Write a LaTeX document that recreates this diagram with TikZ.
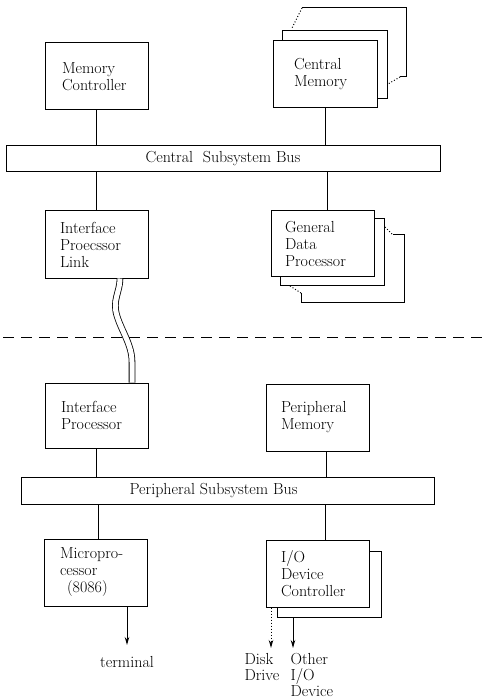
\documentclass[tikz,border=0pt]{standalone}
\usetikzlibrary{arrows.meta}
\begin{document}
\begin{tikzpicture}[x=1pt,y=-1pt, line width=1pt,
  txt/.style={font=\fontsize{16}{17}\selectfont},
  blk/.style={draw, fill=white, align=left, inner ysep=0pt, txt},
  back/.style={draw, fill=white, inner sep=0pt},
  bus/.style={draw, fill=white, inner sep=0pt},
  lbl/.style={txt, inner sep=0pt},
  tip/.style={-{Stealth[length=8pt,width=4.5pt]}}]
\useasboundingbox (0,0) rectangle (487,700);

% ---------- central memory stack ----------
\draw (302,8) -- (406,8) -- (406,77) -- (400,77);
\draw[dotted] (302,8) -- (292,28);
\draw[dotted] (400,77) -- (388,84);
\node[back, minimum width=105pt, minimum height=68pt] (cm2) at (334.5,65) {};
\node[blk, text width=62pt, inner xsep=21pt, minimum height=67pt] (cm) at (325,74.5) {Central\\Memory};

% ---------- memory controller ----------
\node[blk, text width=69pt, inner xsep=17pt, minimum height=67pt] (mc) at (96.5,76.5) {Memory\\Controller};

% ---------- central bus ----------
\node[bus, minimum width=434pt, minimum height=26pt, txt] (csb) at (223,159) {Central\ \ Subsystem Bus};

% ---------- interface processor link ----------
\node[blk, text width=73pt, inner xsep=15pt, minimum height=67pt] (ipl) at (96.5,244.5) {Interface\\Proecssor\\Link};

% ---------- general data processor stack ----------
\draw (393,235) -- (404,235) -- (404,302) -- (301,302) -- (301,293);
\draw[dotted] (385,227) -- (393,235);
\draw[dotted] (290,286) -- (301,293);
\node[back, minimum width=104pt, minimum height=66pt] (gdp2) at (332,252) {};
\node[blk, text width=75pt, inner xsep=14pt, minimum height=65pt] (gdp) at (322.5,243.5) {General\\Data\\Processor};

% connectors central subsystem
\draw (mc.south) -- (mc.south |- csb.north);
\draw (cm.south) -- (cm.south |- csb.north);
\draw (ipl.north) -- (ipl.north |- csb.south);
\draw ([xshift=4.5pt]gdp.north) -- ([xshift=4.5pt]gdp.north |- csb.south);

% ---------- dashed boundary ----------
\coordinate (dl) at (3,337);
\coordinate (dr) at (487,337);
\draw[dash pattern=on 11pt off 7pt] (dl) -- (dr);

% ---------- peripheral subsystem ----------
\node[blk, text width=71pt, inner xsep=16pt, minimum height=65pt] (ip) at (96.5,415.5) {Interface\\Processor};
\node[blk, text width=73pt, inner xsep=15pt, minimum height=67pt] (pm) at (317.5,417.5) {Peripheral\\Memory};

% double wavy link
\coordinate (ls) at ([xshift=23.5pt]ipl.south);
\coordinate (le) at ([xshift=35.5pt]ip.north);
\draw[double distance=5pt, line width=0.8pt] (ls) .. controls (120,292) and (112,300) .. (117,316)
   .. controls (122,332) and (132,345) .. (132,362) -- (le);

\node[bus, minimum width=413pt, minimum height=27pt] (psb) at (227.5,490.5) {};
\node[lbl] (psbt) at (213.5,490.5) {Peripheral Subsystem Bus};

\node[blk, text width=71pt, inner xsep=16pt, minimum height=67pt] (mp) at (95.5,572.5) {Micropro-\\cessor\\\hspace*{7pt}(8086)};

\node[back, minimum width=104pt, minimum height=66pt] (io2) at (329,584) {};
\node[blk, text width=73pt, inner xsep=15pt, minimum height=67pt] (io) at (317.5,573.5) {I/O\\Device\\Controller};

% connectors peripheral subsystem
\draw (ip.south) -- (ip.south |- psb.north);
\draw ([xshift=8.5pt]pm.south) -- ([xshift=8.5pt]pm.south |- psb.north);
\draw ([xshift=2.5pt]mp.north) -- ([xshift=2.5pt]mp.north |- psb.south);
\draw ([xshift=7.5pt]io.north) -- ([xshift=7.5pt]io.north |- psb.south);

% output arrows
\coordinate (term) at (127,645);
\coordinate (dk) at (271,648);
\coordinate (ot) at (293,648);
\draw[tip] (mp.south -| term) -- (term);
\draw[tip, dotted] (io.south -| dk) -- (dk);
\draw[tip] (io2.south -| ot) -- (ot);

\node[lbl] (termt) at (127,662) {terminal};
\node[lbl, anchor=north west, align=left, font=\fontsize{16}{16}\selectfont] (dkt) at (244,653) {Disk\\Drive};
\node[lbl, anchor=north west, align=left, font=\fontsize{16}{16}\selectfont] (ott) at (290,653) {Other\\I/O\\Device};
\end{tikzpicture}
\end{document}
